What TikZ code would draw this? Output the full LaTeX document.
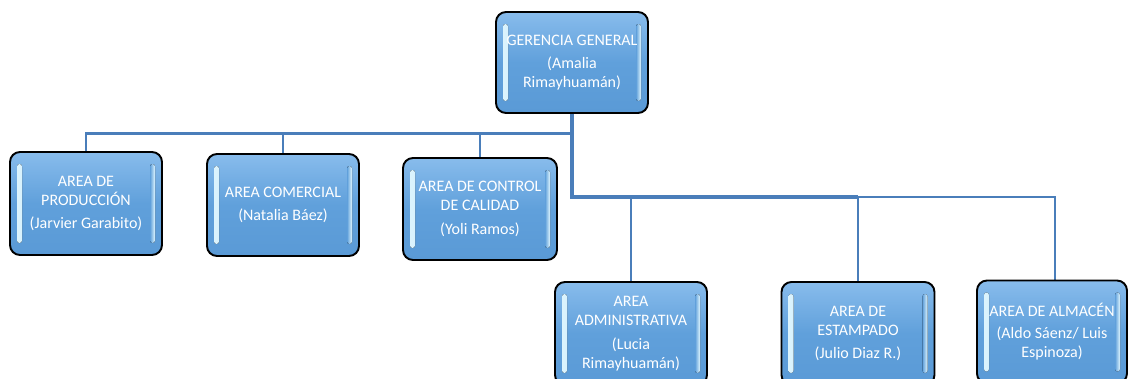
\documentclass[tikz,border=0pt]{standalone}
\usepackage{fontspec}
\setmainfont{Carlito}
\usetikzlibrary{backgrounds}

\definecolor{linkblue}{RGB}{74,126,186}
\definecolor{boxtop}{RGB}{136,188,236}
\definecolor{boxmid}{RGB}{96,160,219}
\definecolor{boxbot}{RGB}{90,154,214}
\definecolor{gloss}{RGB}{226,248,255}

\tikzset{
  unit box/.style={
    draw=black, line width=1.9pt, rounded corners=10pt,
    inner sep=0pt, outer sep=0pt,
    top color=boxtop, bottom color=boxbot, middle color=boxmid,
    text=white, align=center,
    font=\fontsize{16}{19}\selectfont,
    path picture={
      % glossy bevel strips along the left and right edges
      \fill[left color=gloss, right color=boxmid, rounded corners=2.5pt]
        ([xshift=7pt,yshift=-12pt]path picture bounding box.north west) rectangle
        ([xshift=12pt,yshift=12pt]path picture bounding box.south west);
      \fill[right color=gloss, left color=boxmid, rounded corners=2.5pt]
        ([xshift=-12pt,yshift=-12pt]path picture bounding box.north east) rectangle
        ([xshift=-7pt,yshift=12pt]path picture bounding box.south east);
    }
  },
  trunk/.style={draw=linkblue, line width=3.6pt},
  link/.style={draw=linkblue, line width=2.7pt}
}

\begin{document}
\begin{tikzpicture}[x=1pt, y=-1pt]
  \useasboundingbox (0,0) rectangle (1128,378);
  \clip (0,0) rectangle (1128,378);

  % head of the organisation
  \node[unit box, minimum width=152pt, minimum height=101pt] (gg) at (572,62.5)
    {GERENCIA GENERAL\\[4.5pt](Amalia\\Rimayhuamán)};

  % first row of areas
  \node[unit box, minimum width=152pt, minimum height=103pt] (prod) at (86,203.5)
    {AREA DE\\PRODUCCIÓN\\[4.5pt](Jarvier Garabito)};
  \node[unit box, minimum width=152pt, minimum height=102pt] (com) at (283,205)
    {AREA COMERCIAL\\[4.5pt](Natalia Báez)};
  \node[unit box, minimum width=154pt, minimum height=102pt] (ctl) at (480,209)
    {AREA DE CONTROL\\DE CALIDAD\\[4.5pt](Yoli Ramos)};

  % second row of areas
  \node[unit box, minimum width=152pt, minimum height=103pt] (adm) at (631,333.5)
    {AREA\\ADMINISTRATIVA\\[4.5pt](Lucia\\Rimayhuamán)};
  \node[unit box, minimum width=153pt, minimum height=103pt] (est) at (858,333.5)
    {AREA DE\\ESTAMPADO\\[4.5pt](Julio Diaz R.)};
  \node[unit box, minimum width=150pt, minimum height=103pt] (alm) at (1052,332)
    {AREA DE ALMACÉN\\[3pt](Aldo Sáenz/ Luis\\Espinoza)};

  % junctions of the two distribution lines
  \coordinate (j1) at (572,133.5);
  \coordinate (j2) at (572,197);

  \begin{scope}[on background layer]
    \fill[white] (0,0) rectangle (1128,378);
    \draw[link] (j1) -| (prod.north);
    \draw[link] (j1) -| (com.north);
    \draw[link] (j1) -| (ctl.north);
    \draw[link] (j2) -| (adm.north);
    \draw[link] (j2) -| (est.north);
    \draw[link] (j2) -| ([xshift=3pt]alm.north);
    \draw[trunk] (gg.south) -- (j2) -- (j2 -| est.north);
    \draw[trunk] (j1) -- (j1 -| ctl.north);
  \end{scope}
\end{tikzpicture}
\end{document}
